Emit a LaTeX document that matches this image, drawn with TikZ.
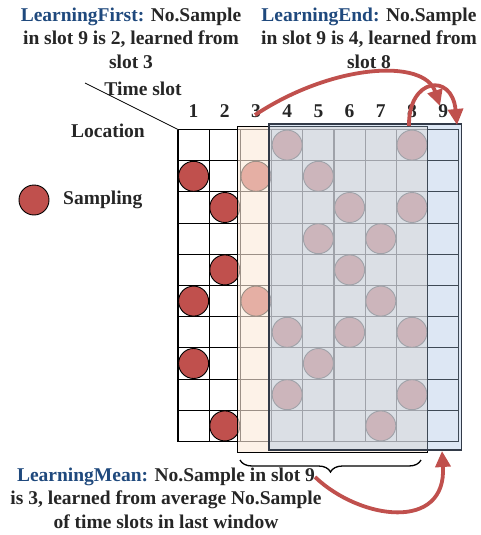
\documentclass[tikz,border=0pt]{standalone}
\usepackage{fontspec}
\setmainfont{Liberation Serif}
\usetikzlibrary{arrows.meta,decorations.pathreplacing}
\definecolor{samp}{RGB}{192,80,77}
\definecolor{lblue}{RGB}{31,73,125}
\definecolor{txt}{RGB}{38,38,38}
\definecolor{orfill}{RGB}{252,234,218}
\definecolor{blfill}{RGB}{165,192,225}
\definecolor{blborder}{RGB}{50,58,72}
\begin{document}
\begin{tikzpicture}[x=1pt,y=-1pt,
  lbl/.style={font=\fontsize{19.5}{23.5}\selectfont\bfseries, text=txt, inner sep=0pt, align=center},
  gridline/.style={draw=black, line width=1.1pt},
  sampdot/.style={circle, fill=samp, draw=black, line width=0.9pt, minimum size=30pt, inner sep=0pt},
  orwin/.style={fill=orfill, fill opacity=0.62, draw=black, line width=0.9pt},
  blwin/.style={fill=blfill, fill opacity=0.38, draw=blborder, line width=1.1pt},
  redarrow/.style={draw=samp, line width=3.8pt, -{Triangle[length=16pt,width=15pt]}},
  bracestyle/.style={draw=black, line width=1.3pt, decorate, decoration={brace, amplitude=12pt, mirror}}
]
\useasboundingbox (0,0) rectangle (480,535);

% grid
\foreach \i in {0,...,9} \draw[gridline] ({178+31.2*\i},129.5) -- ({178+31.2*\i},441.5);
\foreach \j in {0,...,10} \draw[gridline] (178,{129.5+31.2*\j}) -- (458.8,{129.5+31.2*\j});

% samples
\foreach \c/\r [count=\k] in {1/2,2/3,2/5,1/6,1/8,2/10,4/1,8/1,3/2,5/2,6/3,8/3,5/4,7/4,6/5,3/6,7/6,4/7,6/7,8/7,5/8,4/9,8/9,7/10}
  \node[sampdot] (s\k) at ({178+31.2*(\c-0.5)},{129.5+31.2*(\r-0.5)}) {};

% windows
\draw[orwin] (237.5,126.5) rectangle (427.5,452);
\draw[blwin] (269,124) rectangle (461.5,450);

% diagonal header line
\coordinate (dg1) at (85,83);
\coordinate (dg2) at (178,129.5);
\draw[line width=0.8pt] (dg1) -- (dg2);

% labels
\node[lbl] (tslot) at (143,89) {Time slot};
\node[lbl] (loc) at (108,131) {Location};
\foreach \c in {1,...,9}
  \node[lbl] (n\c) at ({178+31.2*(\c-0.5)},111) {\c};

% legend
\node[sampdot] (leg) at (34,200) {};
\node[lbl, anchor=west] (legt) at (63,200) {Sampling};

% top texts
\node[lbl] (tfirst) at (131,38) {\textcolor{lblue}{LearningFirst:} No.Sample\\in slot 9 is 2, learned from\\slot 3};
\node[lbl] (tend) at (369,38) {\textcolor{lblue}{LearningEnd:} No.Sample\\in slot 9 is 4, learned from\\slot 8};
\node[lbl] (tmean) at (166,498) {\textcolor{lblue}{LearningMean:} No.Sample in slot 9\\is 3, learned from average No.Sample\\of time slots in last window};

% brace
\coordinate (br1) at (240,460);
\coordinate (br2) at (421,460);
\draw[bracestyle] (br1) -- (br2);

% arrows
\coordinate (af1) at (255,115);
\coordinate (af2) at (440,106);
\draw[redarrow] (af1) .. controls (332,64) and (424,58) .. (af2);
\coordinate (ae1) at (409,126);
\coordinate (ae2) at (457,125);
\draw[redarrow] (ae1) .. controls (408,78) and (452,72) .. (ae2);
\coordinate (am1) at (315,477);
\coordinate (am2) at (442,451);
\draw[redarrow] (am1) .. controls (360,520) and (447,532) .. (am2);
\end{tikzpicture}
\end{document}
